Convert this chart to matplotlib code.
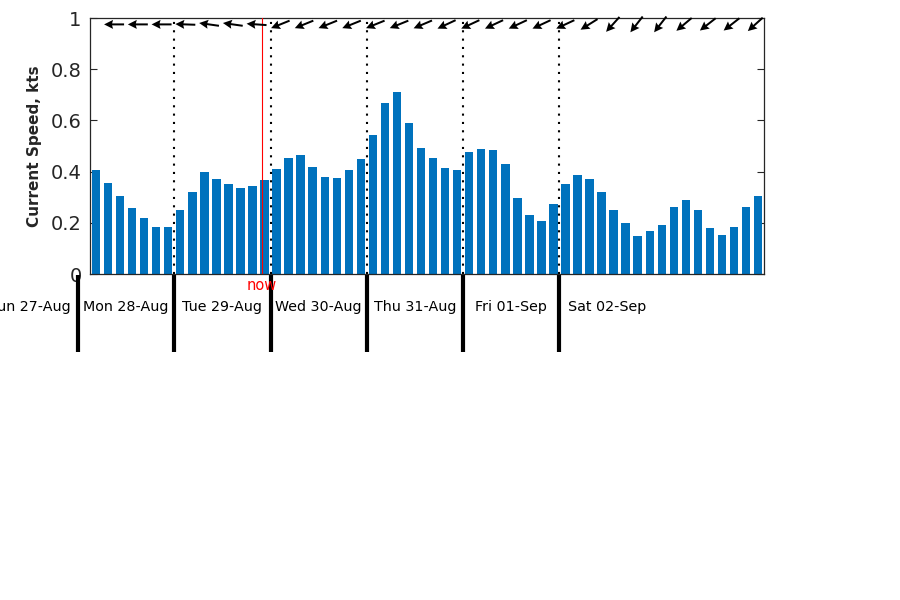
import numpy as np
import matplotlib
matplotlib.use('Agg')
import matplotlib.pyplot as plt
from matplotlib.transforms import blended_transform_factory

# ---------------- data ----------------
# time axis: hours since Mon 28-Aug 00:00
day_labels = ['Sun 27-Aug', 'Mon 28-Aug', 'Tue 29-Aug', 'Wed 30-Aug',
              'Thu 31-Aug', 'Fri 01-Sep', 'Sat 02-Sep']
day_label_hours = [-12, 12, 36, 60, 84, 108, 132]
day_tick_hours = [0, 24, 48, 72, 96, 120]
day_line_hours = [24, 48, 72, 96, 120]

bar_hours = np.arange(4.5, 170.0, 3.0)  # 3-hourly samples
speed = [0.406, 0.355, 0.305, 0.258, 0.219, 0.184, 0.184,
         0.250, 0.320, 0.398, 0.371, 0.352, 0.336, 0.344, 0.367,
         0.410, 0.453, 0.465, 0.418, 0.379, 0.375, 0.406, 0.449,
         0.543, 0.668, 0.711, 0.590, 0.492, 0.453, 0.414, 0.406,
         0.477, 0.488, 0.484, 0.430, 0.297, 0.230, 0.207, 0.273,
         0.352, 0.387, 0.371, 0.320, 0.250, 0.199, 0.148, 0.168,
         0.191, 0.262, 0.289, 0.250, 0.180, 0.152, 0.184, 0.262, 0.305]

arrow_hours = np.linspace(9.0, 168.8, 28)
# direction the current flows to, degrees counter-clockwise from east
arrow_dir = [180, 180, 180, 178, 172, 172, 176,
             202, 202, 202, 202, 202, 202, 203,
             205, 205, 205, 205, 205, 205, 212,
             228, 232, 232, 220, 218, 218, 222]

now_hour = 45.8
ylabel = 'Current Speed, kts'

# ---------------- plot ----------------
fig = plt.figure(figsize=(9, 6), dpi=100)
ax = fig.add_axes([0.1, 1 - 274 / 600, 0.749, 256 / 600])

dark = '#262626'
ax.bar(bar_hours, speed, width=2.1, color='#0072BD', zorder=2)

ax.set_xlim(3, 171)
ax.set_ylim(0, 1)
ax.set_yticks([0, 0.2, 0.4, 0.6, 0.8, 1])
ax.set_yticklabels(['0', '0.2', '0.4', '0.6', '0.8', '1'])
ax.set_xticks([])
ax.tick_params(axis='y', direction='in', length=5, width=0.8, right=True,
               labelsize=14, colors=dark, pad=6)
for s in ax.spines.values():
    s.set_color(dark)
    s.set_linewidth(0.9)
ax.set_ylabel(ylabel, fontsize=11, fontweight='bold', color=dark, labelpad=6)

# day boundary dotted lines
for h in day_line_hours:
    ax.plot([h, h], [0, 1], color='k', lw=1.5, linestyle=(0, (1, 3)), zorder=3)

# now line
ax.plot([now_hour, now_hour], [0, 1], color='red', lw=0.8, zorder=4)

trans = blended_transform_factory(ax.transData, ax.transAxes)
ax.text(now_hour, -0.043, 'now', color='red', fontsize=10.5, ha='center',
        va='center', transform=trans, clip_on=False)

# thick day ticks below axis
for h in day_tick_hours:
    ax.plot([h, h], [-0.004, -0.305], color='k', lw=3, transform=trans,
            clip_on=False, solid_capstyle='butt')

for h, lab in zip(day_label_hours, day_labels):
    ax.text(h, -0.129, lab, fontsize=10.3, ha='center', va='center',
            transform=trans, clip_on=False, color='k')

# direction arrows
rad = np.deg2rad(arrow_dir)
ax.quiver(arrow_hours, np.full(len(arrow_hours), 0.975), np.cos(rad), np.sin(rad),
          angles='uv', pivot='middle', scale_units='inches', scale=5,
          units='dots', width=2.0, headwidth=4.5, headlength=4.5,
          headaxislength=4.0, color='k', zorder=5, clip_on=False)

fig.savefig('out.png', dpi=100)
